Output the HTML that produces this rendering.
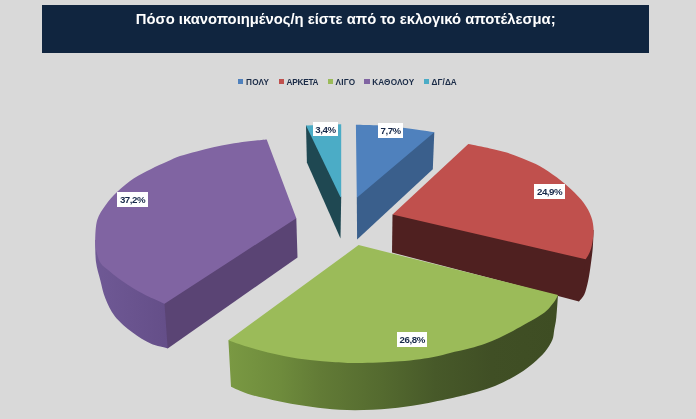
<!DOCTYPE html>
<html><head><meta charset="utf-8"><title>chart</title>
<style>
html,body{margin:0;padding:0}
body{width:696px;height:419px;background:#d9d9d9;position:relative;overflow:hidden;font-family:"Liberation Sans",sans-serif}
.hd{position:absolute;left:42px;top:4.5px;width:607.2px;height:48px;background:#10253f}
.tt{position:absolute;left:42px;top:9px;width:607.5px;text-align:center;color:#fff;font-weight:bold;font-size:14.8px;line-height:20px;white-space:nowrap}
.sq{position:absolute;top:79.2px;width:5.2px;height:5.2px}
.lg{position:absolute;top:77.2px;font-size:8.2px;line-height:11px;font-weight:bold;color:#1a2b47;white-space:nowrap}
.lb{position:absolute;overflow:hidden;background:#fff;color:#17294a;font-weight:bold;font-size:9.7px;letter-spacing:-0.45px;text-align:center;white-space:nowrap}
</style></head><body>
<div class="hd"></div><div class="tt">Πόσο ικανοποιημένος/η είστε από το εκλογικό αποτέλεσμα;</div>
<div class="sq" style="left:238.00px;background:#4f81bd"></div><div class="lg" style="left:246.00px;letter-spacing:0.25px">ΠΟΛΥ</div><div class="sq" style="left:278.90px;background:#c0504d"></div><div class="lg" style="left:286.60px;letter-spacing:-0.23px">ΑΡΚΕΤΑ</div><div class="sq" style="left:328.00px;background:#9bbb59"></div><div class="lg" style="left:335.60px;letter-spacing:0.17px">ΛΙΓΟ</div><div class="sq" style="left:364.40px;background:#8064a2"></div><div class="lg" style="left:372.20px;letter-spacing:0.16px">ΚΑΘΟΛΟΥ</div><div class="sq" style="left:424.00px;background:#4bacc6"></div><div class="lg" style="left:431.50px;letter-spacing:0.10px">ΔΓ/ΔΑ</div>
<svg width="696" height="419" viewBox="0 0 696 419" style="position:absolute;left:0;top:0">
<defs>
<linearGradient id="gp" gradientUnits="userSpaceOnUse" x1="95" y1="0" x2="170" y2="0"><stop offset="0" stop-color="#6f5995"/><stop offset="1" stop-color="#644e88"/></linearGradient>
<linearGradient id="gg" gradientUnits="userSpaceOnUse" x1="228" y1="0" x2="557" y2="0"><stop offset="0" stop-color="#7a9943"/><stop offset="0.16" stop-color="#6e8b3c"/><stop offset="0.28" stop-color="#627b36"/><stop offset="0.47" stop-color="#546a2f"/><stop offset="0.63" stop-color="#475929"/><stop offset="0.8" stop-color="#404f25"/><stop offset="1" stop-color="#3e4d23"/></linearGradient>
</defs>
<path fill="#1f4852" d="M306.00 125.60 L309.00 127.00 L339.00 185.00 L341.20 196.90 L340.50 238.60 L306.90 162.60Z"/>
<path fill="#4bacc6" d="M306.00 125.60 L341.20 124.30 L341.20 196.90 L340.40 196.90Z"/>
<path fill="#3a5f8c" d="M356.80 197.80 L360.00 190.00 L425.00 134.00 L434.30 132.30 L432.80 169.20 L357.10 239.60Z"/>
<path fill="#4f81bd" d="M355.90 124.80 C359.92 124.92 371.82 124.97 380.00 125.50 C388.18 126.03 397.50 127.12 405.00 128.00 C412.50 128.88 420.12 130.03 425.00 130.75 C429.88 131.47 432.75 132.04 434.30 132.30 L356.80 197.80Z"/>
<path fill="url(#gp)" d="M95.20 240.00 C95.33 243.67 95.16 255.33 96.00 262.00 C96.84 268.67 98.70 273.95 100.25 280.00 C101.80 286.05 102.88 292.27 105.30 298.30 C107.72 304.33 110.25 310.48 114.80 316.20 C119.35 321.92 126.63 328.03 132.60 332.60 C138.57 337.17 144.75 340.97 150.60 343.60 C156.45 346.23 164.85 347.60 167.70 348.40 L172.00 340.00 L172.00 300.00 L200.00 250.00 L110.00 235.00Z"/>
<path fill="#5a4474" d="M296.30 218.20 L288.00 214.00 L168.00 296.00 L164.50 303.75 L167.70 348.40 L297.50 257.50Z"/>
<path fill="#8064a2" d="M296.30 218.20 L266.70 139.60 C263.37 139.93 252.82 140.85 246.70 141.60 C240.58 142.35 235.57 143.15 230.00 144.10 C224.43 145.05 218.85 146.08 213.30 147.30 C207.75 148.52 202.25 149.95 196.70 151.40 C191.15 152.85 184.90 154.32 180.00 156.00 C175.10 157.68 172.18 159.30 167.30 161.50 C162.42 163.70 156.25 166.40 150.70 169.20 C145.15 172.00 139.57 174.55 134.00 178.30 C128.43 182.05 122.02 187.25 117.30 191.70 C112.58 196.15 109.03 200.32 105.70 205.00 C102.37 209.68 99.05 213.97 97.30 219.80 C95.55 225.63 95.32 234.63 95.20 240.00 C95.08 245.37 95.68 248.12 96.60 252.00 C97.52 255.88 98.63 260.17 100.70 263.30 C102.77 266.43 106.23 268.43 109.00 270.80 C111.77 273.17 114.25 275.22 117.30 277.50 C120.35 279.78 124.02 282.33 127.30 284.50 C130.58 286.67 133.38 288.45 137.00 290.50 C140.62 292.55 144.42 294.59 149.00 296.80 C153.58 299.01 161.92 302.59 164.50 303.75Z"/>
<path fill="#4f2020" d="M593.60 230.00 C593.47 232.92 593.28 241.67 592.80 247.50 C592.32 253.33 591.48 259.42 590.70 265.00 C589.92 270.58 589.17 276.08 588.10 281.00 C587.03 285.92 585.82 291.10 584.30 294.50 C582.78 297.90 579.88 300.25 579.00 301.40 L575.00 295.00 L575.00 250.00 L586.00 230.00Z"/>
<path fill="#4f2020" d="M392.50 214.50 L400.00 213.00 L570.00 250.00 L585.60 259.30 L579.00 301.40 L392.00 252.50Z"/>
<path fill="#c0504d" d="M392.50 214.50 L468.30 144.10 C471.92 144.82 483.60 146.98 490.00 148.40 C496.40 149.82 501.15 150.87 506.70 152.60 C512.25 154.33 517.75 156.53 523.30 158.80 C528.85 161.07 534.43 163.12 540.00 166.20 C545.57 169.28 551.48 173.42 556.70 177.30 C561.92 181.18 566.78 185.22 571.30 189.50 C575.82 193.78 580.48 198.47 583.80 203.00 C587.12 207.53 589.57 212.20 591.20 216.70 C592.83 221.20 593.42 225.62 593.60 230.00 C593.78 234.38 592.97 239.25 592.30 243.00 C591.63 246.75 590.72 249.78 589.60 252.50 C588.48 255.22 586.27 258.17 585.60 259.30Z"/>
<path fill="url(#gg)" d="M558.00 295.00 C557.72 298.75 556.93 311.67 556.30 317.50 C555.67 323.33 554.87 326.25 554.20 330.00 C553.53 333.75 553.83 336.38 552.30 340.00 C550.77 343.62 548.17 347.83 545.00 351.70 C541.83 355.57 537.47 359.65 533.30 363.20 C529.13 366.75 525.00 369.82 520.00 373.00 C515.00 376.18 508.85 379.63 503.30 382.30 C497.75 384.97 492.25 387.08 486.70 389.00 C481.15 390.92 475.53 392.34 470.00 393.80 C464.47 395.26 461.83 395.97 453.50 397.75 C445.17 399.53 430.58 402.71 420.00 404.50 C409.42 406.29 400.83 407.54 390.00 408.50 C379.17 409.46 365.83 410.25 355.00 410.25 C344.17 410.25 334.58 409.42 325.00 408.50 C315.42 407.58 306.25 406.17 297.50 404.75 C288.75 403.33 280.83 401.83 272.50 400.00 C264.17 398.17 254.42 395.95 247.50 393.75 C240.58 391.55 233.75 387.96 231.00 386.80 L228.40 340.20 L300.00 320.00 L500.00 310.00Z"/>
<path fill="#9bbb59" d="M358.60 245.10 L558.00 295.00 C557.52 295.92 556.70 298.18 555.10 300.50 C553.50 302.82 550.92 306.38 548.40 308.90 C545.88 311.42 543.40 313.32 540.00 315.60 C536.60 317.88 532.50 320.03 528.00 322.60 C523.50 325.17 517.83 328.43 513.00 331.00 C508.17 333.57 503.67 335.87 499.00 338.00 C494.33 340.13 489.83 342.08 485.00 343.80 C480.17 345.52 475.83 346.77 470.00 348.30 C464.17 349.83 455.67 351.63 450.00 353.00 C444.33 354.37 441.00 355.47 436.00 356.50 C431.00 357.53 426.00 358.40 420.00 359.20 C414.00 360.00 406.08 360.78 400.00 361.30 C393.92 361.82 389.75 362.02 383.50 362.30 C377.25 362.58 368.50 362.90 362.50 363.00 C356.50 363.10 354.17 363.18 347.50 362.90 C340.83 362.62 330.83 362.03 322.50 361.30 C314.17 360.57 305.83 359.80 297.50 358.50 C289.17 357.20 280.83 355.45 272.50 353.50 C264.17 351.55 254.85 349.02 247.50 346.80 C240.15 344.58 231.58 341.30 228.40 340.20Z"/>
</svg>
<div class="lb" style="left:116.90px;top:191.90px;width:31.20px;height:15.00px;line-height:15.00px">37,2%</div><div class="lb" style="left:312.90px;top:121.90px;width:25.20px;height:14.60px;line-height:16.60px">3,4%</div><div class="lb" style="left:378.10px;top:123.40px;width:25.00px;height:14.70px;line-height:16.70px">7,7%</div><div class="lb" style="left:534.20px;top:183.80px;width:30.80px;height:15.00px;line-height:15.00px">24,9%</div><div class="lb" style="left:396.90px;top:331.60px;width:30.60px;height:15.30px;line-height:15.30px">26,8%</div>
</body></html>
